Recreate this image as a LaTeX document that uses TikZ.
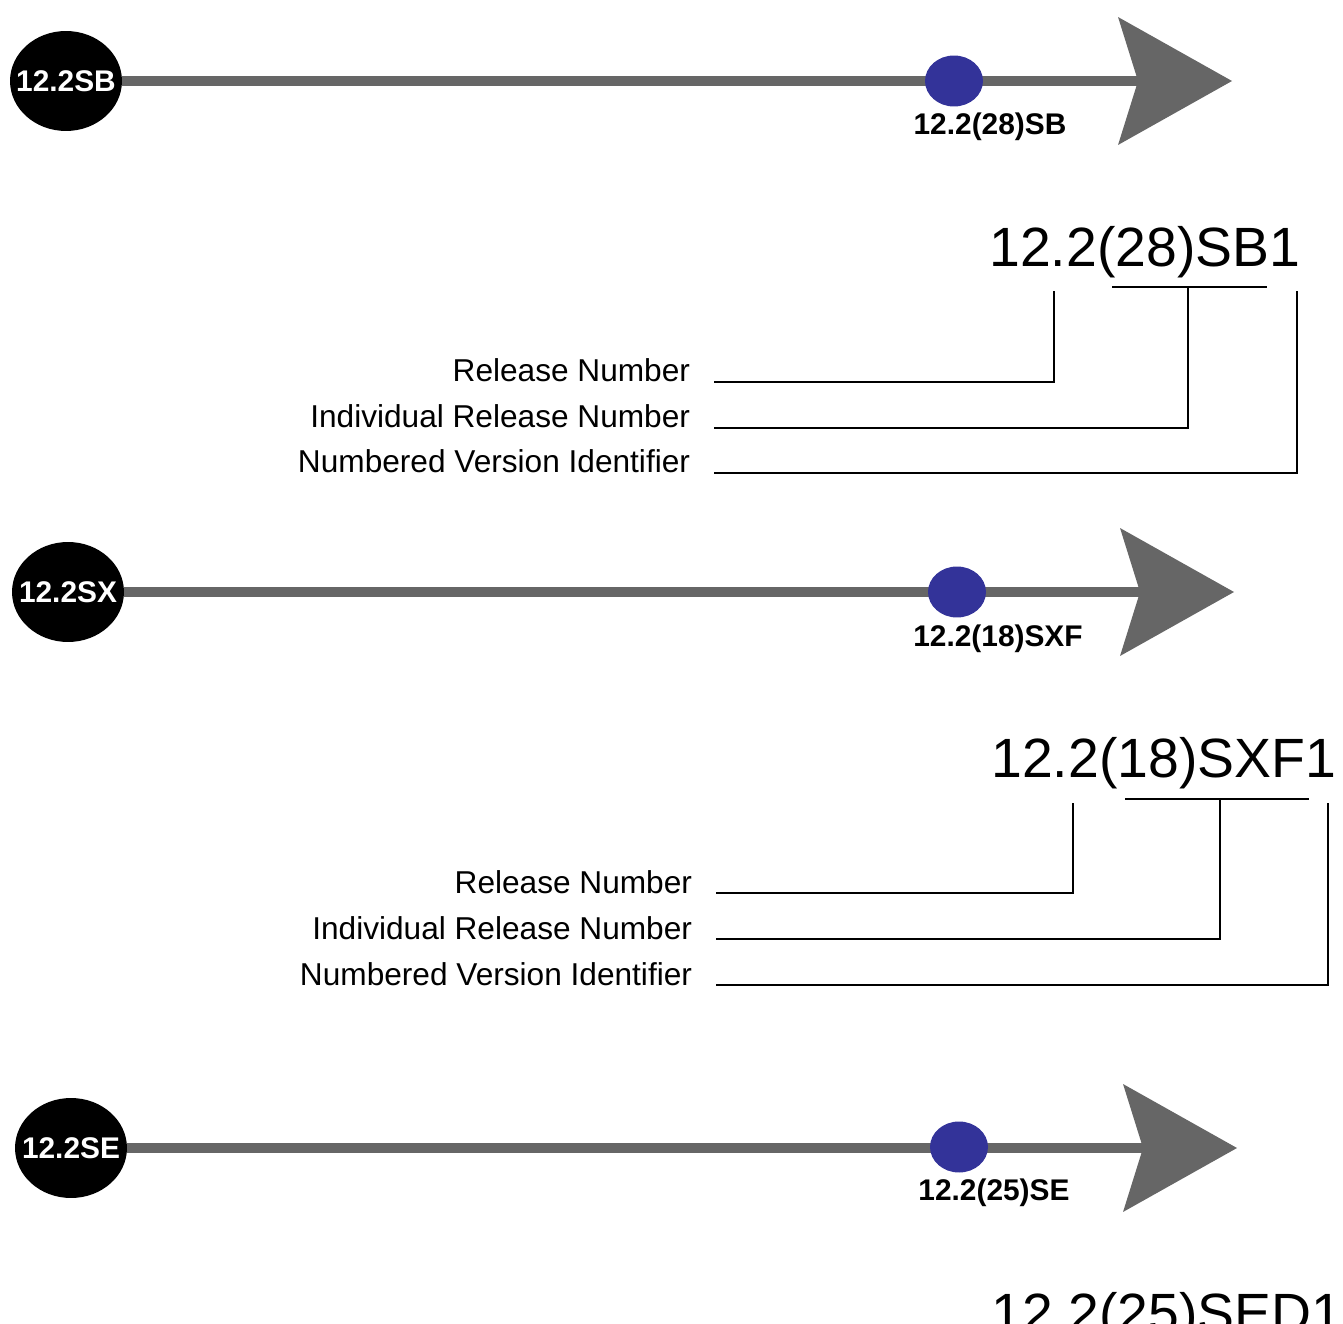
\documentclass[tikz,border=0pt]{standalone}
\usepackage{fontspec}
\setmainfont{Liberation Sans}
\usepackage{tikz}
\usetikzlibrary{arrows.meta,shapes.geometric,positioning}
\definecolor{trackgray}{HTML}{666666}
\definecolor{relblue}{HTML}{333399}

\begin{document}
\begin{tikzpicture}[
      x=0.02cm, y=-0.02cm,
      hub/.style={ellipse, fill=black, inner sep=0pt,
                  minimum width=2.24cm, minimum height=2.0cm},
      hubtext/.style={text=white, inner sep=0pt,
                      font=\fontsize{17}{20}\selectfont\bfseries},
      relpt/.style={ellipse, fill=relblue, inner sep=0pt,
                    minimum width=1.16cm, minimum height=1.02cm},
      ptlbl/.style={inner sep=0pt, font=\fontsize{17}{20}\selectfont\bfseries},
      track/.style={draw=trackgray, line width=0.2cm,
                    -{Stealth[length=2.28cm, width=2.56cm, inset=0.4cm, line width=0pt]}},
      bignum/.style={anchor=base west, inner sep=0pt,
                     font=\fontsize{31.5}{36}\selectfont},
      fieldlbl/.style={anchor=base east, inner xsep=0.48cm, inner ysep=0pt,
                       outer sep=0pt, font=\fontsize{18}{21}\selectfont},
      lead/.style={draw=black, line width=1.1pt}
    ]
      \useasboundingbox (0,0) rectangle (1343,1324);

      %% 12.2SB train
      \node[hub, label={[hubtext]center:12.2SB}] (sb) at (66,81) {};
      \coordinate (sbend) at (1232,81);
      \draw[track] (sb) -- (sbend);
      \node[relpt] (sbrel) at (954,81) {};
      \node[ptlbl] (sbrellbl) at (990,127) {12.2(28)SB};

      %% 12.2(28)SB1 fields
      \node[bignum] (sbnum) at (989,267) {12.2(28)SB1};
      \coordinate (sbrtop) at (1054,291);
      \coordinate (sbbl) at (1112,287);
      \coordinate (sbbm) at (1188,287);
      \coordinate (sbbr) at (1267,287);
      \coordinate (sbvtop) at (1297,291);
      \node[fieldlbl] (sbrn) at (714,382) {Release Number};
      \node[fieldlbl] (sbirn) at (714,428) {Individual Release Number};
      \node[fieldlbl] (sbnvi) at (714,473) {Numbered Version Identifier};
      \draw[lead] (sbbl) -- (sbbr);
      \draw[lead] (sbrn.base east) -| (sbrtop);
      \draw[lead] (sbirn.base east) -| (sbbm);
      \draw[lead] (sbnvi.base east) -| (sbvtop);

      %% 12.2SX train
      \node[hub, label={[hubtext]center:12.2SX}] (sx) at (68,592) {};
      \coordinate (sxend) at (1234,592);
      \draw[track] (sx) -- (sxend);
      \node[relpt] (sxrel) at (957,592) {};
      \node[ptlbl] (sxrellbl) at (998,639) {12.2(18)SXF};

      %% 12.2(18)SXF1 fields
      \node[bignum] (sxnum) at (991,777) {12.2(18)SXF1};
      \coordinate (sxrtop) at (1073,803);
      \coordinate (sxbl) at (1125,799);
      \coordinate (sxbm) at (1220,799);
      \coordinate (sxbr) at (1309,799);
      \coordinate (sxvtop) at (1328,803);
      \node[fieldlbl] (sxrn) at (716,893) {Release Number};
      \node[fieldlbl] (sxirn) at (716,939) {Individual Release Number};
      \node[fieldlbl] (sxnvi) at (716,985) {Numbered Version Identifier};
      \draw[lead] (sxbl) -- (sxbr);
      \draw[lead] (sxrn.base east) -| (sxrtop);
      \draw[lead] (sxirn.base east) -| (sxbm);
      \draw[lead] (sxnvi.base east) -| (sxvtop);

      %% 12.2SE train
      \node[hub, label={[hubtext]center:12.2SE}] (se) at (71,1148) {};
      \coordinate (seend) at (1237,1148);
      \draw[track] (se) -- (seend);
      \node[relpt] (serel) at (959,1147) {};
      \node[ptlbl] (serellbl) at (994,1193) {12.2(25)SE};

      \node[bignum] (senum) at (991,1332) {12.2(25)SED1};
    \end{tikzpicture}
\end{document}
